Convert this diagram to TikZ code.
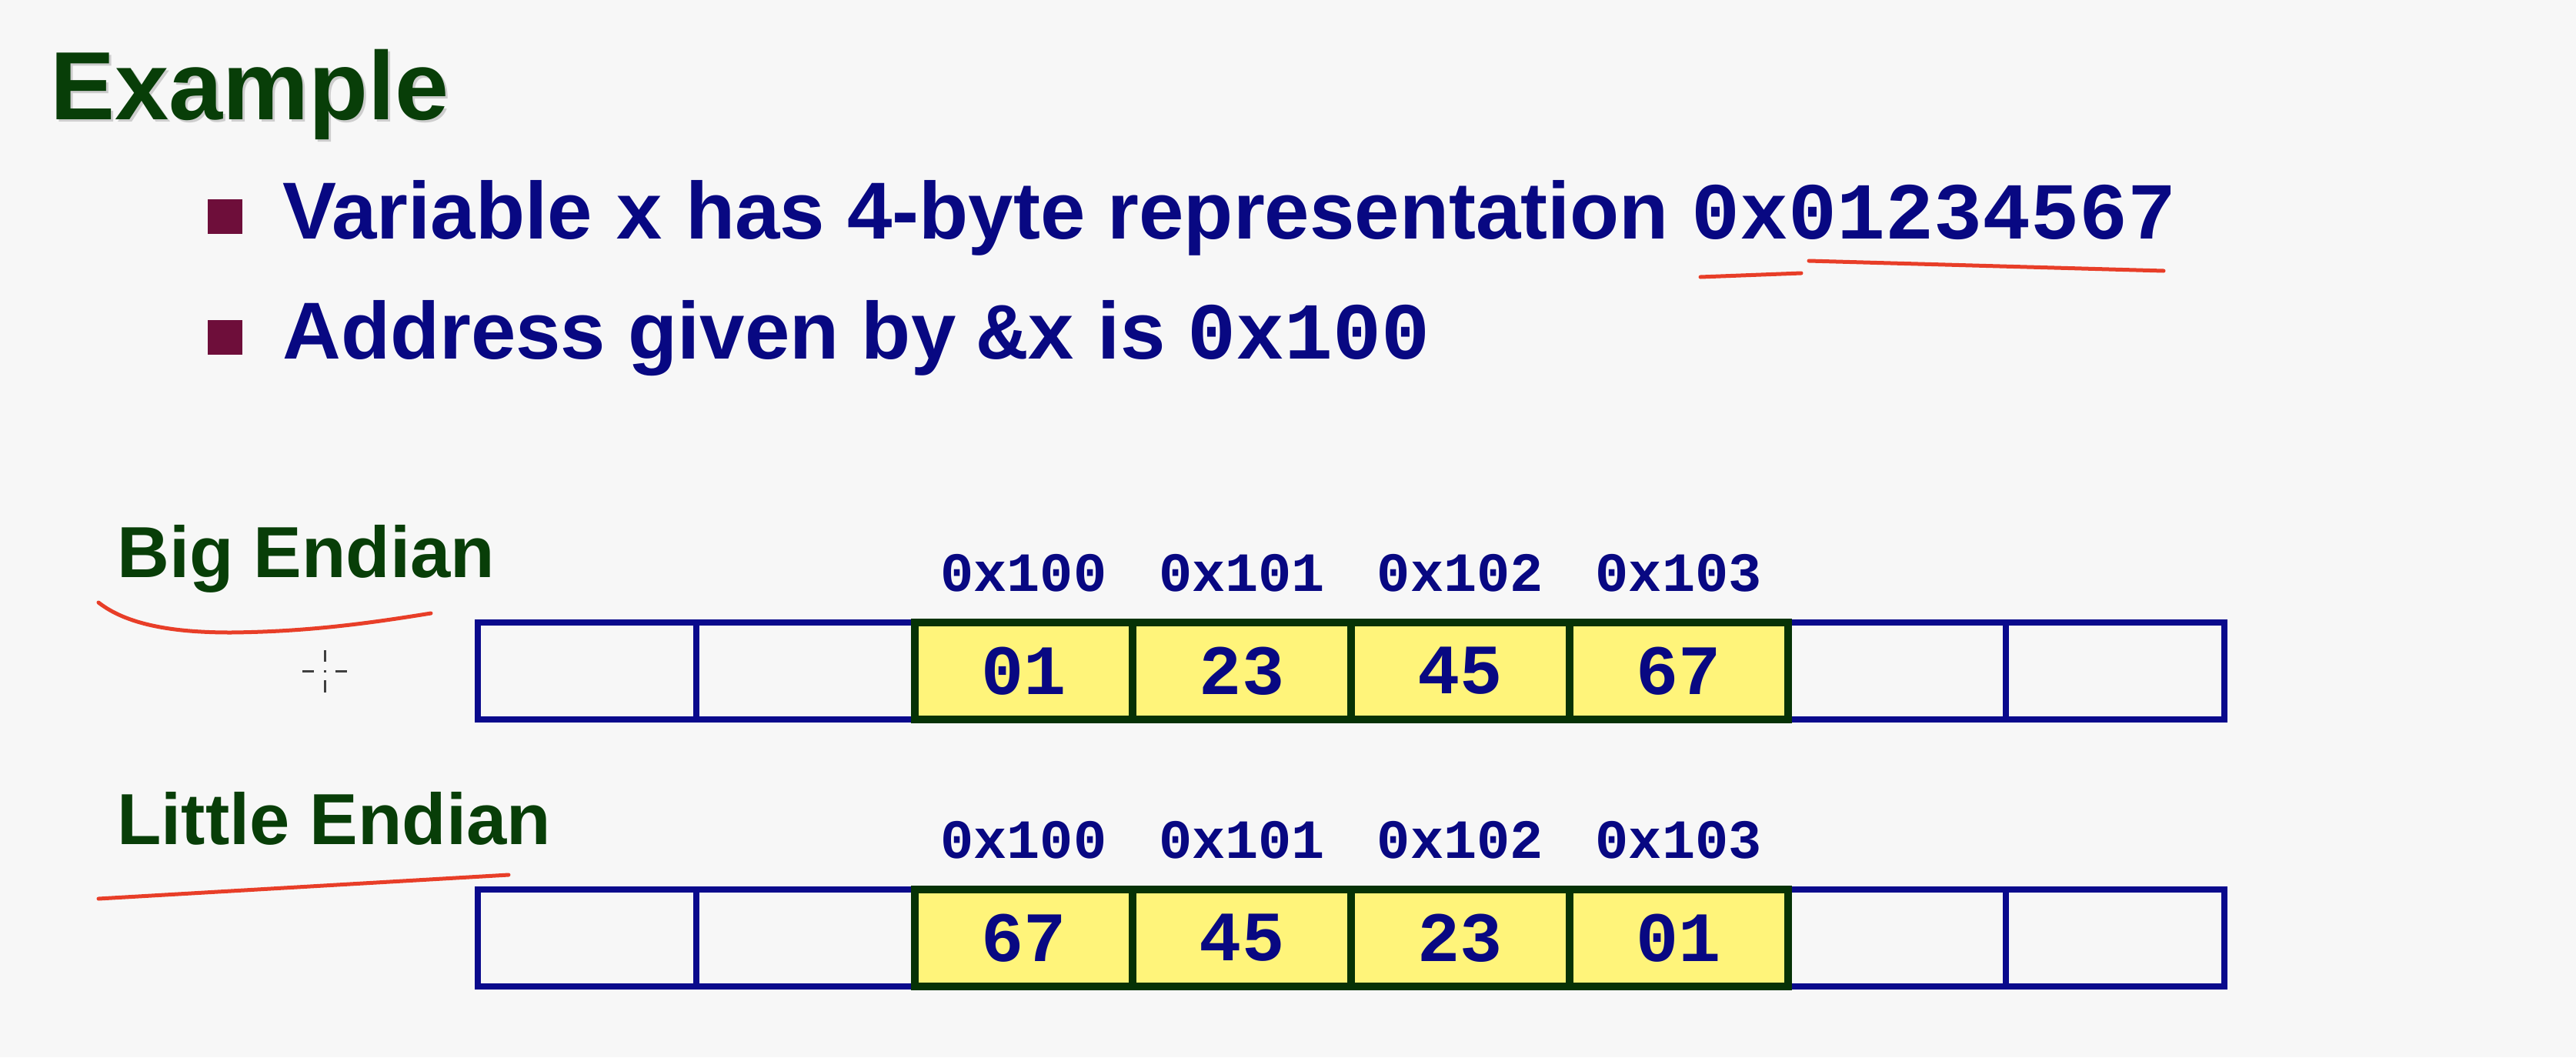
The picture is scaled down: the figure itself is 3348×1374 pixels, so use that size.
\documentclass[tikz,border=0pt]{standalone}
\usepackage{fontspec}
\setmainfont{Liberation Sans}
\setmonofont{Liberation Mono}
\definecolor{bg}{RGB}{247,247,247}
\definecolor{titlegreen}{RGB}{8,62,8}
\definecolor{navy}{RGB}{8,8,130}
\definecolor{maroon}{RGB}{110,14,58}
\definecolor{cellblue}{RGB}{10,10,140}
\definecolor{cellgreen}{RGB}{6,50,6}
\definecolor{cellyellow}{RGB}{255,244,122}
\definecolor{inkred}{RGB}{232,62,40}
\definecolor{shadowgray}{RGB}{205,205,205}
\begin{document}
\begin{tikzpicture}[x=1pt,y=-1pt,
  title/.style={inner sep=0, anchor=base west, text=titlegreen, font=\fontsize{126}{150}\selectfont\bfseries},
  bodytext/.style={inner sep=0, anchor=base west, text=navy, font=\fontsize{105}{126}\selectfont\bfseries},
  bulletsq/.style={fill=maroon, minimum size=45pt, inner sep=0},
  rowlabel/.style={inner sep=0, anchor=base west, text=titlegreen, font=\fontsize{94}{112}\selectfont\bfseries},
  addr/.style={inner sep=0, anchor=base, text=navy, font=\fontsize{72}{86}\selectfont\ttfamily\bfseries},
  blank/.style={draw=cellblue, line width=8pt, fill=bg, minimum width=283.75pt, minimum height=126pt, inner sep=0, outer sep=0},
  byte/.style={blank, draw=cellgreen, line width=10pt, fill=cellyellow, text=navy, font=\fontsize{92}{110}\selectfont\ttfamily\bfseries},
  redink/.style={draw=inkred, line width=5pt, line cap=round},
  cursor/.style={draw=black!75, line width=3pt}
]
\fill[bg] (0,0) rectangle (3348,1374);
\useasboundingbox (0,0) rectangle (3348,1374);

% title with shadow
\node[title, text=shadowgray] (titleshadow) at (68,158) {Example};
\node[title] (title) at (65,155) {Example};

% bullets
\node[bulletsq] (bul1) at (292,281) {};
\node[bulletsq] (bul2) at (292,438) {};
\node[bodytext] (line1) at (367,310) {Variable \texttt{x} has 4-byte representation \texttt{0x01234567}};
\node[bodytext] (line2) at (367,466) {Address given by \texttt{\&x} is \texttt{0x100}};

% row labels
\node[rowlabel] (bigl) at (152,750) {Big Endian};
\node[rowlabel] (littlel) at (152,1097) {Little Endian};

% big endian row
\foreach \i in {1,2,7,8}
  \node[blank] (b\i) at ({621+(\i-0.5)*283.75},872) {};
\foreach \i/\v in {3/01,4/23,5/45,6/67}
  \node[byte] (b\i) at ({621+(\i-0.5)*283.75},872) {\v};
\foreach \i/\a in {3/0x100,4/0x101,5/0x102,6/0x103}
  \node[addr] (ba\i) at ({621+(\i-0.5)*283.75},768) {\a};

% little endian row
\foreach \i in {1,2,7,8}
  \node[blank] (l\i) at ({621+(\i-0.5)*283.75},1219) {};
\foreach \i/\v in {3/67,4/45,5/23,6/01}
  \node[byte] (l\i) at ({621+(\i-0.5)*283.75},1219) {\v};
\foreach \i/\a in {3/0x100,4/0x101,5/0x102,6/0x103}
  \node[addr] (la\i) at ({621+(\i-0.5)*283.75},1115) {\a};

% red hand-drawn annotations
\draw[redink] (2210,360) -- (2341,355);
\draw[redink] (2351,339) -- (2812,352);
\draw[redink] (128,783) .. controls (165,812) and (225,822) .. (300,822)
  .. controls (400,821) and (480,810) .. (560,797);
\draw[redink] (128,1168) -- (661,1137);

% mouse cursor
\draw[cursor] (422,845) -- (422,860);
\draw[cursor] (422,884) -- (422,900);
\draw[cursor] (393,872) -- (408,872);
\draw[cursor] (436,872) -- (451,872);
\fill[black!75] (420.5,870.5) rectangle (423.5,873.5);
\end{tikzpicture}
\end{document}
